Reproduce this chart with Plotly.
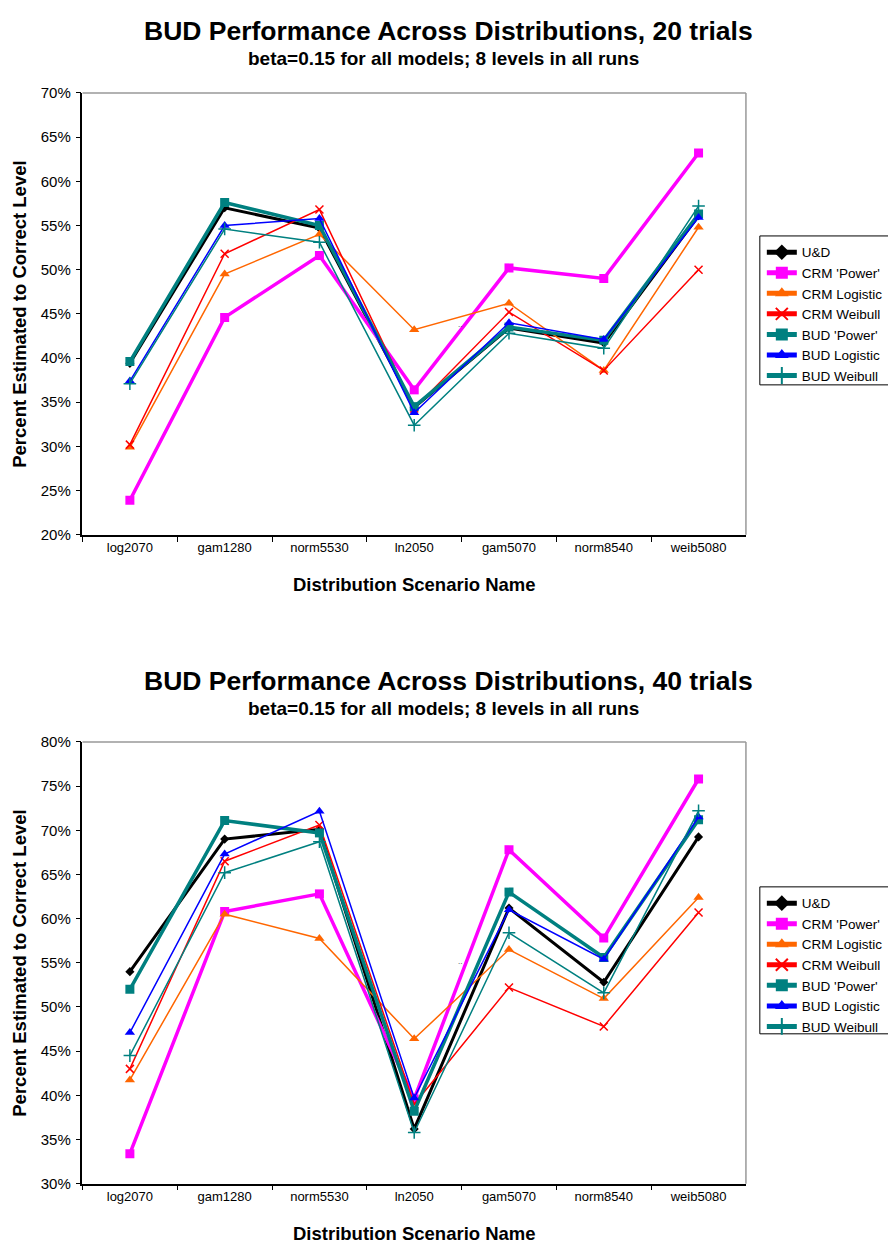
import plotly.graph_objects as go

categories = ["log2070", "gam1280", "norm5530", "ln2050", "gam5070", "norm8540", "weib5080"]
series_names = ["U&D", "CRM 'Power'", "CRM Logistic", "CRM Weibull", "BUD 'Power'", "BUD Logistic", "BUD Weibull"]

# 20 trials (percent)
t20_ud = [39.4, 57.0, 54.7, 34.4, 43.4, 41.7, 56.1]
t20_crm_power = [23.9, 44.6, 51.6, 36.4, 50.2, 49.0, 63.2]
t20_crm_logistic = [29.9, 49.5, 54.0, 43.2, 46.2, 38.6, 54.8]
t20_crm_weibull = [30.2, 51.8, 56.8, 34.3, 45.2, 38.6, 50.0]
t20_bud_power = [39.6, 57.6, 55.0, 34.5, 43.5, 42.0, 56.3]
t20_bud_logistic = [37.4, 55.0, 55.8, 33.8, 44.0, 42.1, 55.9]
t20_bud_weibull = [37.1, 54.6, 53.1, 32.4, 42.8, 41.1, 57.2]

# 40 trials (percent)
t40_ud = [54.0, 69.0, 70.1, 36.2, 61.2, 52.8, 69.25]
t40_crm_power = [33.4, 60.8, 62.8, 39.6, 67.8, 57.8, 75.8]
t40_crm_logistic = [41.75, 60.5, 57.75, 46.4, 56.5, 50.95, 62.4]
t40_crm_weibull = [43.0, 66.5, 70.6, 39.0, 52.2, 47.8, 60.7]
t40_bud_power = [52.0, 71.1, 69.7, 38.2, 63.0, 55.6, 71.2]
t40_bud_logistic = [47.1, 67.3, 72.15, 39.7, 61.0, 55.4, 71.5]
t40_bud_weibull = [44.5, 65.2, 68.7, 35.8, 58.4, 51.6, 72.2]

y_ticks_20 = [20, 25, 30, 35, 40, 45, 50, 55, 60, 65, 70]
y_ticks_40 = [30, 35, 40, 45, 50, 55, 60, 65, 70, 75, 80]

styles = [
    dict(color="#000000", width=3, symbol="diamond", size=7, mlw=0),
    dict(color="#FF00FF", width=3.5, symbol="square", size=9, mlw=0),
    dict(color="#FF6600", width=1.5, symbol="triangle-up", size=9, mlw=0),
    dict(color="#FF0000", width=1.5, symbol="x-thin-open", size=8, mlw=1.5),
    dict(color="#008080", width=3.5, symbol="square", size=9, mlw=0),
    dict(color="#0000FF", width=1.5, symbol="triangle-up", size=9, mlw=0),
    dict(color="#008080", width=1.5, symbol="cross-thin-open", size=9, mlw=1.5),
]

# page is 896x1252; the body has an 8px default margin, so the figure is 880x1236
OFF = 8
W, H = 896 - 2 * OFF, 1252 - 2 * OFF
FONT = "Liberation Sans, Arial, sans-serif"
def px(x): return (x - OFF) / W
def py(y): return 1 - (y - OFF) / H

fig = go.Figure()

sets = [
    ([t20_ud, t20_crm_power, t20_crm_logistic, t20_crm_weibull, t20_bud_power, t20_bud_logistic, t20_bud_weibull], "x", "y", "legend"),
    ([t40_ud, t40_crm_power, t40_crm_logistic, t40_crm_weibull, t40_bud_power, t40_bud_logistic, t40_bud_weibull], "x2", "y2", "legend2"),
]
for data, xa, ya, lg in sets:
    for name, vals, st in zip(series_names, data, styles):
        fig.add_trace(go.Scatter(
            x=categories, y=vals, name=name, mode="lines+markers",
            xaxis=xa, yaxis=ya, legend=lg,
            line=dict(color=st["color"], width=st["width"]),
            marker=dict(symbol=st["symbol"], size=st["size"], color=st["color"],
                        line=dict(color=st["color"], width=st["mlw"])),
        ))

font_xtick = dict(family=FONT, size=13, color="black")
font_ytick = dict(family=FONT, size=15, color="black")

xcommon = dict(type="category", tickson="boundaries", ticks="outside", ticklen=5,
               tickcolor="black", showline=True, linecolor="black", linewidth=1.5,
               showgrid=False, zeroline=False, tickfont=font_xtick,
               range=[-0.5, 6.5], fixedrange=True)
ycommon = dict(ticks="outside", ticklen=5, tickcolor="black", showline=True,
               linecolor="black", linewidth=1.5, showgrid=False, zeroline=False,
               tickfont=font_ytick, ticklabelstandoff=2)

legend_common = dict(xanchor="left", yanchor="top",
                     borderwidth=0, bgcolor="rgba(0,0,0,0)",
                     font=dict(family=FONT, size=13.5, color="black"),
                     tracegroupgap=0, itemsizing="constant")

fig.update_layout(
    width=W, height=H, margin=dict(l=0, r=0, t=0, b=0),
    paper_bgcolor="white", plot_bgcolor="white",
    xaxis=dict(xcommon, domain=[px(83), px(751)], anchor="y"),
    yaxis=dict(ycommon, domain=[py(533), py(85)], anchor="x", range=[20, 70],
               tickvals=y_ticks_20, ticktext=[f"{v}%" for v in y_ticks_20]),
    xaxis2=dict(xcommon, domain=[px(83), px(751)], anchor="y2"),
    yaxis2=dict(ycommon, domain=[py(1191), py(743)], anchor="x2", range=[30, 80],
                tickvals=y_ticks_40, ticktext=[f"{v}%" for v in y_ticks_40]),
    legend=dict(legend_common, x=px(767), y=py(231)),
    legend2=dict(legend_common, x=px(767), y=py(891)),
    showlegend=True,
)

annots = []
for ytitle, ysub, yxt, ymid, trials in [(22, 50, 583, 309, 20), (681, 709, 1241, 967, 40)]:
    annots.append(dict(text=f"<b>BUD Performance Across Distributions, {trials} trials</b>",
                       x=px(452), y=py(ytitle), xref="paper", yref="paper",
                       showarrow=False, xanchor="center", yanchor="middle",
                       font=dict(family=FONT, size=26.5, color="black")))
    annots.append(dict(text="<b>beta=0.15 for all models; 8 levels in all runs</b>",
                       x=px(446), y=py(ysub), xref="paper", yref="paper",
                       showarrow=False, xanchor="center", yanchor="middle",
                       font=dict(family=FONT, size=19, color="black")))
    annots.append(dict(text="<b>Distribution Scenario Name</b>",
                       x=px(417), y=py(yxt), xref="paper", yref="paper",
                       showarrow=False, xanchor="center", yanchor="middle",
                       font=dict(family=FONT, size=18.5, color="black")))
    annots.append(dict(text="<b>Percent Estimated to Correct Level</b>",
                       x=px(20), y=py(ymid), xref="paper", yref="paper", textangle=-90,
                       showarrow=False, xanchor="center", yanchor="middle",
                       font=dict(family=FONT, size=18.5, color="black")))
for yy in [313, 972]:
    annots.append(dict(text="..", x=px(463), y=py(yy), xref="paper", yref="paper",
                       showarrow=False, font=dict(family=FONT, size=8, color="#333")))
fig.update_layout(annotations=annots)

shapes = []
for xr, yr in [("x domain", "y domain"), ("x2 domain", "y2 domain")]:
    shapes.append(dict(type="line", xref=xr, yref=yr, x0=0, x1=1, y0=1, y1=1,
                       line=dict(color="#999999", width=1.5)))
    shapes.append(dict(type="line", xref=xr, yref=yr, x0=1, x1=1, y0=0, y1=1,
                       line=dict(color="#999999", width=1.5)))
# legend frames run past the right edge of the page, as in the original
for top, bottom in [(230, 381), (890, 1039)]:
    shapes.append(dict(type="rect", xref="paper", yref="paper",
                       x0=px(765), x1=px(915), y0=py(bottom), y1=py(top),
                       line=dict(color="black", width=1), fillcolor="rgba(0,0,0,0)"))
fig.update_layout(shapes=shapes)

fig.write_html("out.html", config={"displayModeBar": False})
